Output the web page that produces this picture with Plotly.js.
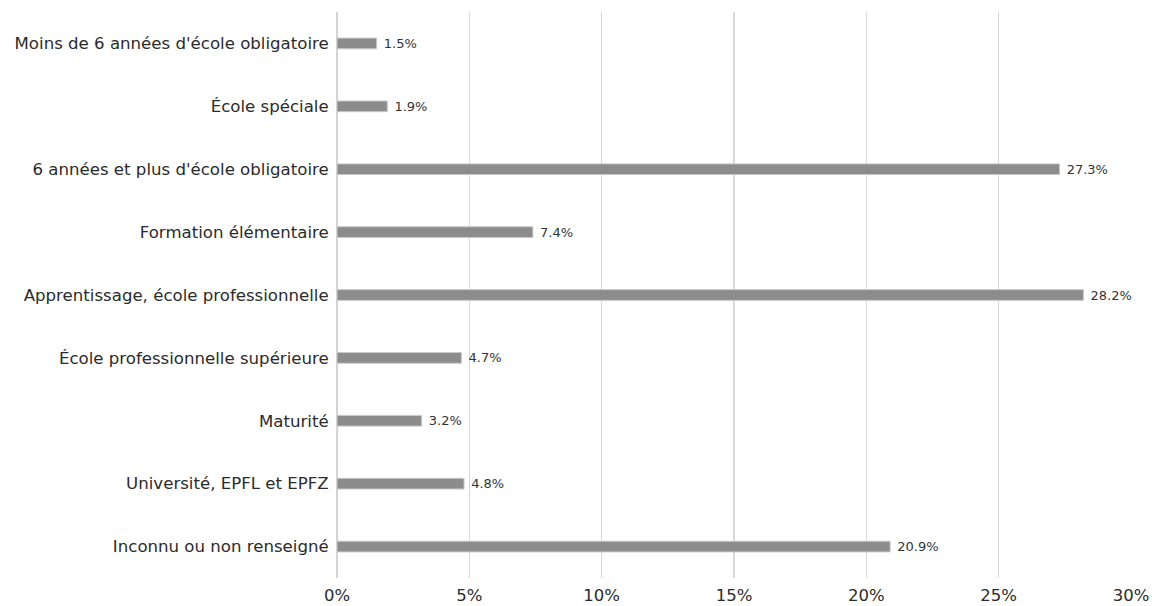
<!DOCTYPE html>
<html><head><meta charset="utf-8">
<script src="https://cdn.plot.ly/plotly-3.0.1.min.js"></script>
<style>html,body{margin:0;padding:0;background:#fff}#chart{width:1152px;height:606px}</style>
</head><body><div id="chart"></div>
<script>
const categories = [
  "Moins de 6 années d'école obligatoire",
  "École spéciale",
  "6 années et plus d'école obligatoire",
  "Formation élémentaire",
  "Apprentissage, école professionnelle",
  "École professionnelle supérieure",
  "Maturité",
  "Université, EPFL et EPFZ",
  "Inconnu ou non renseigné"
];
const values = [1.5, 1.9, 27.3, 7.4, 28.2, 4.7, 3.2, 4.8, 20.9];
const tickVals = [0, 5, 10, 15, 20, 25, 30];
const tickText = ["0%", "5%", "10%", "15%", "20%", "25%", "30%"];

const FONT = 'DejaVu Sans, Liberation Sans, sans-serif';
const trace = {
  type: 'bar', orientation: 'h',
  x: values, y: categories,
  width: 0.17,
  marker: {color: '#8c8c8c', line: {color: '#c8c8c8', width: 1}},
  text: values.map(v => '\u00a0' + v.toFixed(1) + '%'),
  textposition: 'outside',
  constraintext: 'none',
  textfont: {family: FONT, size: 13, color: '#333'},
  cliponaxis: false,
  hoverinfo: 'none'
};
const layout = {
  width: 1152, height: 606,
  margin: {l: 337, r: 21, t: 12, b: 28},
  paper_bgcolor: '#fff', plot_bgcolor: '#fff',
  showlegend: false,
  font: {family: FONT, color: '#2b2b2b'},
  xaxis: {
    range: [0, 30], tickvals: tickVals, ticktext: tickText,
    showgrid: true, gridcolor: '#d9d9d9', gridwidth: 1.5,
    zeroline: true, zerolinecolor: '#d4d4d4', zerolinewidth: 1.5,
    showline: false, ticks: 'outside', ticklen: 2, tickcolor: 'rgba(0,0,0,0)',
    tickfont: {size: 16.5, color: '#2b2b2b'},
    fixedrange: true
  },
  yaxis: {
    autorange: 'reversed', type: 'category',
    showgrid: false, zeroline: false, showline: false,
    ticks: 'outside', ticklen: 4, tickcolor: 'rgba(0,0,0,0)',
    tickfont: {size: 16.6, color: '#2b2b2b'},
    fixedrange: true
  },
  bargap: 0.8
};
Plotly.newPlot('chart', [trace], layout, {displayModeBar: false, staticPlot: true});
</script></body></html>
